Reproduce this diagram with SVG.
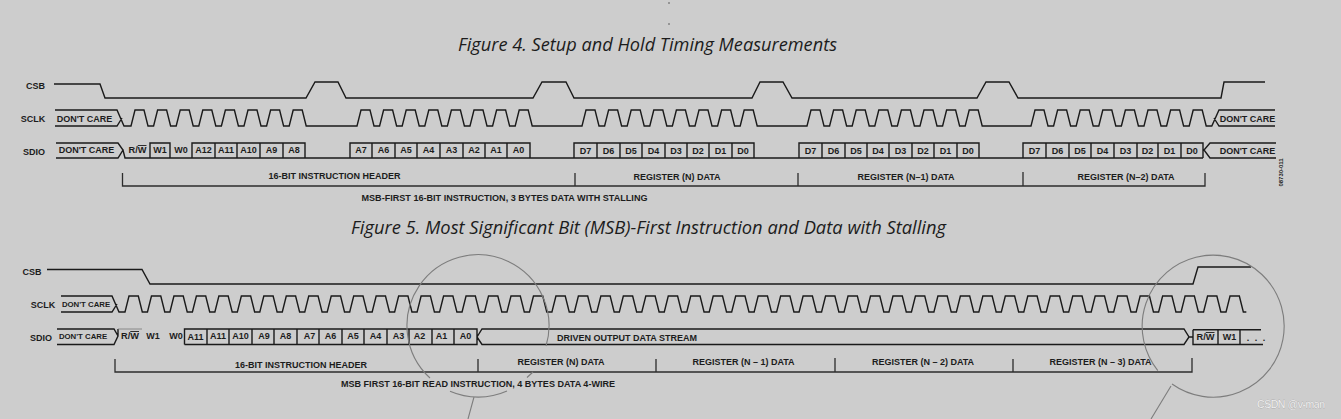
<svg xmlns="http://www.w3.org/2000/svg" width="1341" height="419" viewBox="0 0 1341 419">
<style>
text{font-family:"Liberation Sans",Arial,sans-serif;font-weight:bold;font-size:9px;fill:#1c1c1c;text-anchor:middle}
.s{font-size:7.8px}
.t{font-family:"Open Sans","Noto Sans",sans-serif;font-style:italic;font-weight:normal;font-size:19px;fill:#1c1c1c}
.w{fill:none;stroke:#1a1a1a;stroke-width:1.4}
.b{fill:none;stroke:#2c2c2c;stroke-width:1.3}
.c{fill:none;stroke:#7d7d7d;stroke-width:1.1}
.o{text-decoration:overline}
</style>
<rect width="1341" height="419" fill="#cdcdcd"/>
<circle cx="669" cy="3" r="0.7" fill="#333"/>
<circle cx="669" cy="24" r="0.7" fill="#333"/>
<text class="t" x="647.5" y="51" textLength="379" lengthAdjust="spacingAndGlyphs">Figure 4. Setup and Hold Timing Measurements</text>
<text class="t" x="648.5" y="234" textLength="595" lengthAdjust="spacingAndGlyphs">Figure 5. Most Significant Bit (MSB)-First Instruction and Data with Stalling</text>
<g id="fig4-labels">
<text x="35.5" y="89">CSB</text><text x="33" y="122">SCLK</text><text x="34" y="155">SDIO</text>
<text x="84.5" y="122">DON'T CARE</text><text x="86.5" y="153">DON'T CARE</text>
<text x="1247.5" y="122">DON'T CARE</text><text x="1247.5" y="154">DON'T CARE</text>
</g>
<g id="fig4-csb"><path class="w" d="M54 84H100L105 98H306L315 82H338L346 98H533L542 82H566L574 98H752L760 82H783L792 98H977L986 82H1009L1018 98H1221L1224 82H1265"/></g>
<g id="fig4-sclk"><path class="w" d="M55 110H117L124 126H131l4-16h9l4 16h5.6l4-16h9l4 16h5.6l4-16h9l4 16h5.6l4-16h9l4 16h5.6l4-16h9l4 16h5.6l4-16h9l4 16h5.6l4-16h9l4 16h5.6l4-16h9l4 16h5.6H357l4-16h9l4 16h5.6l4-16h9l4 16h5.6l4-16h9l4 16h5.6l4-16h9l4 16h5.6l4-16h9l4 16h5.6l4-16h9l4 16h5.6l4-16h9l4 16h5.6l4-16h9l4 16h5.6H582l4-16h9l4 16h5.6l4-16h9l4 16h5.6l4-16h9l4 16h5.6l4-16h9l4 16h5.6l4-16h9l4 16h5.6l4-16h9l4 16h5.6l4-16h9l4 16h5.6l4-16h9l4 16h5.6H807l4-16h9l4 16h5.6l4-16h9l4 16h5.6l4-16h9l4 16h5.6l4-16h9l4 16h5.6l4-16h9l4 16h5.6l4-16h9l4 16h5.6l4-16h9l4 16h5.6l4-16h9l4 16h5.6H1031l4-16h9l4 16h5.6l4-16h9l4 16h5.6l4-16h9l4 16h5.6l4-16h9l4 16h5.6l4-16h9l4 16h5.6l4-16h9l4 16h5.6l4-16h9l4 16h5.6l4-16h9l4 16h5.6L1219 110H1275M55 126H117L122 118M1275 126H1219L1214 118"/></g>
<g id="fig4-sdio"><path class="w" d="M56 143H118L123 150L118 158H56M123 150L125 158H1203M150 158V143H170V158M192 158V143H305V158M215 143V158M237 143V158M260 143V158M283 143V158M350 158V143H530V158M372 143V158M395 143V158M417 143V158M440 143V158M463 143V158M485 143V158M507 143V158M574 158V143H754V158M597 143V158M620 143V158M642 143V158M665 143V158M687 143V158M709 143V158M732 143V158M799 158V143H979V158M822 143V158M845 143V158M867 143V158M889 143V158M912 143V158M934 143V158M957 143V158M1023 158V143H1203V158M1046 143V158M1069 143V158M1091 143V158M1114 143V158M1137 143V158M1158 143V158M1181 143V158M1276 143H1210L1204 150L1210 158H1276"/>
<text x="137.5" y="153" textLength="18" lengthAdjust="spacingAndGlyphs">R/<tspan class="o">W</tspan></text><text x="160" y="153">W1</text><text x="181" y="153">W0</text><text x="203.5" y="153">A12</text><text x="226" y="153">A11</text><text x="248.5" y="153">A10</text><text x="271.5" y="153">A9</text><text x="294" y="153">A8</text>
<text x="361" y="153">A7</text><text x="383.5" y="153">A6</text><text x="406" y="153">A5</text><text x="428.5" y="153">A4</text><text x="451.5" y="153">A3</text><text x="474" y="153">A2</text><text x="496" y="153">A1</text><text x="518.5" y="153">A0</text>
<text x="585.5" y="154">D7</text><text x="608.5" y="154">D6</text><text x="631" y="154">D5</text><text x="653.5" y="154">D4</text><text x="676" y="154">D3</text><text x="698" y="154">D2</text><text x="720.5" y="154">D1</text><text x="743" y="154">D0</text>
<text x="810.5" y="154">D7</text><text x="833.5" y="154">D6</text><text x="856" y="154">D5</text><text x="878" y="154">D4</text><text x="900.5" y="154">D3</text><text x="923" y="154">D2</text><text x="945.5" y="154">D1</text><text x="968" y="154">D0</text>
<text x="1034.5" y="154">D7</text><text x="1057.5" y="154">D6</text><text x="1080" y="154">D5</text><text x="1102.5" y="154">D4</text><text x="1125.5" y="154">D3</text><text x="1147.5" y="154">D2</text><text x="1169.5" y="154">D1</text><text x="1192" y="154">D0</text></g>
<g id="fig4-brackets"><path class="b" d="M122.5 173V186H1205V173M575 173V186M798 173V186M1023 172V186"/>
<text x="334.5" y="179">16-BIT INSTRUCTION HEADER</text><text x="677" y="180">REGISTER (N) DATA</text><text x="906" y="180">REGISTER (N–1) DATA</text><text x="1126" y="180">REGISTER (N–2) DATA</text>
<text x="504.5" y="201" textLength="286" lengthAdjust="spacingAndGlyphs">MSB-FIRST 16-BIT INSTRUCTION, 3 BYTES DATA WITH STALLING</text>
<text style="font-size:5.5px" transform="translate(1283 172.5) rotate(-90)" textLength="28" lengthAdjust="spacingAndGlyphs">08730-011</text></g>
<g id="fig5-labels"><text x="32" y="275">CSB</text><text x="43" y="308">SCLK</text><text x="41" y="341">SDIO</text>
<text class="s" x="86" y="307">DON'T CARE</text><text class="s" x="83" y="339">DON'T CARE</text></g>
<g id="fig5-csb"><path class="w" d="M47 269.5H142L150 284H1193L1198 267H1251"/></g>
<g id="fig5-sclk"><path class="w" d="M61 296H112L119 312H125
l4-16h9.3l4 16h5.17l4-16h9.3l4 16h5.17l4-16h9.3l4 16h5.17l4-16h9.3l4 16h5.17l4-16h9.3l4 16h5.17l4-16h9.3l4 16h5.17l4-16h9.3l4 16h5.17l4-16h9.3l4 16h5.17l4-16h9.3l4 16h5.17l4-16h9.3l4 16h5.17
l4-16h9.3l4 16h5.17l4-16h9.3l4 16h5.17l4-16h9.3l4 16h5.17l4-16h9.3l4 16h5.17l4-16h9.3l4 16h5.17l4-16h9.3l4 16h5.17l4-16h9.3l4 16h5.17l4-16h9.3l4 16h5.17l4-16h9.3l4 16h5.17l4-16h9.3l4 16h5.17
l4-16h9.3l4 16h5.17l4-16h9.3l4 16h5.17l4-16h9.3l4 16h5.17l4-16h9.3l4 16h5.17l4-16h9.3l4 16h5.17l4-16h9.3l4 16h5.17l4-16h9.3l4 16h5.17l4-16h9.3l4 16h5.17l4-16h9.3l4 16h5.17l4-16h9.3l4 16h5.17
l4-16h9.3l4 16h5.17l4-16h9.3l4 16h5.17l4-16h9.3l4 16h5.17l4-16h9.3l4 16h5.17l4-16h9.3l4 16h5.17l4-16h9.3l4 16h5.17l4-16h9.3l4 16h5.17l4-16h9.3l4 16h5.17l4-16h9.3l4 16h5.17l4-16h9.3l4 16h5.17
l4-16h9.3l4 16h5.17l4-16h9.3l4 16h5.17l4-16h9.3l4 16h5.17l4-16h9.3l4 16h5.17l4-16h9.3l4 16h5.17l4-16h9.3l4 16h5.17l4-16h9.3l4 16h5.17l4-16h9.3l4 16h5.17l4-16h9.3l4 16h5.17l4-16h9.3l4 16h3
M61 312H112L117 304"/></g>
<g id="fig5-sdio"><path class="w" d="M57 329H114L118 336L114 344.5H57M118 336V329M184.5 344.5V329H477V344.5H184.5M207 329V344.5M229 329V344.5M252 329V344.5M274 329V344.5M297 329V344.5M319 329V344.5M342 329V344.5M364 329V344.5M387 329V344.5M409 329V344.5M432 329V344.5M454 329V344.5M477 337L482 329H1184L1189 337L1184 344.5H482L477 337M1189 337H1193M1193 329.7V344.5H1263M1193 329.7H1261M1218 329.7V344.5M1240 329.7V344.5"/>
<path d="M118 329H142" fill="none" stroke="#777" stroke-width="0.8"/>
<text x="130" y="339" textLength="18" lengthAdjust="spacingAndGlyphs">R/<tspan class="o">W</tspan></text><text x="153" y="339">W1</text><text x="176" y="339">W0</text><text x="195.5" y="340">A11</text><text x="218" y="339">A11</text><text x="240.5" y="339">A10</text><text x="264" y="339">A9</text><text x="285.5" y="339">A8</text><text x="309.5" y="339">A7</text><text x="330.5" y="339">A6</text><text x="353" y="339">A5</text><text x="375.5" y="339">A4</text><text x="398.5" y="339">A3</text><text x="419.5" y="339">A2</text><text x="441.5" y="339">A1</text><text x="465.5" y="339">A0</text>
<text x="627" y="341">DRIVEN OUTPUT DATA STREAM</text>
<text x="1205.5" y="340" textLength="18" lengthAdjust="spacingAndGlyphs">R/<tspan class="o">W</tspan></text><text x="1229.5" y="340">W1</text><text x="1256" y="341" style="word-spacing:3px">. . .</text></g>
<g id="fig5-brackets"><path class="b" d="M115 359V372H1192V358M478 359V372M656 359V372M835 358V372M1013 359V372"/>
<text x="301" y="368">16-BIT INSTRUCTION HEADER</text><text x="561" y="365">REGISTER (N) DATA</text><text x="743.5" y="365">REGISTER (N – 1) DATA</text><text x="923" y="365">REGISTER (N – 2) DATA</text><text x="1100.5" y="365">REGISTER (N – 3) DATA</text>
<text x="478" y="387" textLength="274" lengthAdjust="spacingAndGlyphs">MSB FIRST 16-BIT READ INSTRUCTION, 4 BYTES DATA 4-WIRE</text></g>
<g id="circles">
<path class="c" d="M546 346A71 71 0 1 0 430 378M450 391.3A71 71 0 0 0 507 391M527 377.5L533 372M474 397L468 419"/>
<path class="c" d="M1172 384A71 71 0 1 0 1157.8 370.6M1171 386L1151 419"/>
</g>
<text x="1291" y="408" textLength="68" style="font-weight:normal;font-size:10.5px;fill:#efefef;stroke:#8f8f8f;stroke-width:.35px;paint-order:stroke">CSDN @v-man</text>
</svg>
